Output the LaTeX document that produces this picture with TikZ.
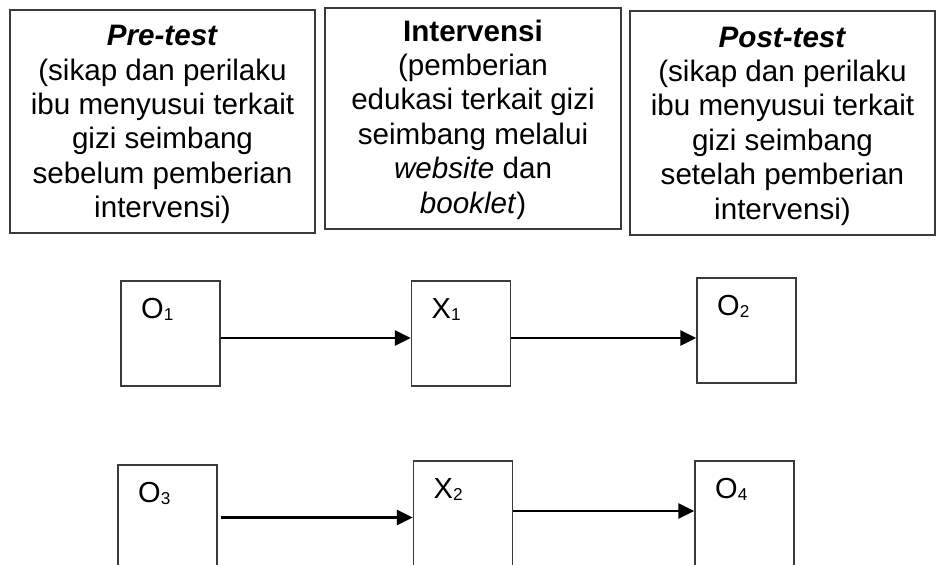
\documentclass[tikz,border=0pt]{standalone}
\usepackage{fontspec}
\setmainfont{Liberation Sans}
\usepackage{tikz}
\usetikzlibrary{arrows.meta,positioning,calc}
\definecolor{rowline}{HTML}{3A3A3A}
\definecolor{rowtext}{HTML}{000000}
\newcommand{\subnum}[1]{\raisebox{-0.6pt}{\fontsize{8.6}{9}\selectfont #1}}
\tikzset{
  phasebox/.style={draw=rowline,line width=0.7pt,inner sep=0pt},
  phasetext/.style={align=center,inner sep=0pt,font=\fontsize{14.8}{17.2}\selectfont,text=rowtext},
  symbox/.style={draw=rowline,line width=0.7pt,minimum width=49.5pt,minimum height=52.5pt,inner sep=0pt},
  sym/.style={anchor=base west,inner sep=0pt,font=\fontsize{14.5}{17}\selectfont},
  ar/.style={-{Triangle[length=8pt,width=7.5pt]},line width=1.45pt,draw=black},
}

\begin{document}
\begin{tikzpicture}[x=0.5pt,y=-0.5pt]
  \clip (0,0) rectangle (937,564);
  \fill[white] (0,0) rectangle (937,564);
  % design stages
  \node[phasebox,minimum width=152.5pt,minimum height=111.5pt](pre) at (162.5,121.5){};
  \node[phasebox,minimum width=148pt,minimum height=110.5pt](int) at (473,118.5){};
  \node[phasebox,minimum width=152.5pt,minimum height=112pt](post) at (782.5,123){};
  \node[phasetext](pre-t) at ($(pre)+(0,3)$){\textbf{\textit{Pre-test}}\\(sikap dan perilaku\\ibu menyusui terkait\\gizi seimbang\\sebelum pemberian\\intervensi)};
  \node[phasetext](int-t) at ($(int)+(0,1)$){\textbf{Intervensi}\\(pemberian\\edukasi terkait gizi\\seimbang melalui\\\textit{website} dan\\\textit{booklet})};
  \node[phasetext](post-t) at ($(post)+(0,3)$){\textbf{\textit{Post-test}}\\(sikap dan perilaku\\ibu menyusui terkait\\gizi seimbang\\setelah pemberian\\intervensi)};
  % group 1
  \node[symbox](o1) at (170.5,333.5){};
  \node[symbox](x1) at (461,333.5){};
  \node[symbox](o2) at (746.5,330.5){};
  % group 2
  \node[symbox](o3) at (167.5,517.5){};
  \node[symbox](x2) at (463,513.5){};
  \node[symbox](o4) at (744.5,513.5){};
  \foreach \n/\s/\i in {o1/O/1,x1/X/1,o2/O/2,o3/O/3,x2/X/2,o4/O/4}{
    \node[sym](l\n) at ($(\n.north west)+(20.5,38.5)$){\s\subnum{\i}};}
  \draw[ar] ([yshift=-2.25pt]o1.east) -- ([yshift=-2.25pt]x1.west);
  \draw[ar] ([yshift=-2.25pt]x1.east) -- ([yshift=-2.25pt]x1.east -| o2.west);
  \draw[ar] ([xshift=1.5pt]o3.east) -- (o3.east -| x2.west);
  \draw[ar] ([yshift=1.25pt]x2.east) -- ([yshift=1.25pt]x2.east -| o4.west);
\end{tikzpicture}
\end{document}
